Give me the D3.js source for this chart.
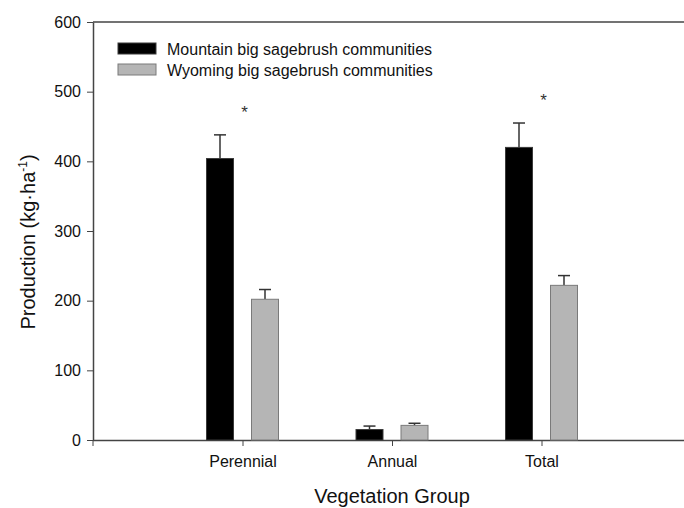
<!DOCTYPE html>
<html>
<head>
<meta charset="utf-8">
<script src="https://cdn.jsdelivr.net/npm/d3@7"></script>
<style>
  body { margin: 0; background: #fff; }
  svg { display: block; font-family: "Liberation Sans", Arial, sans-serif; }
</style>
</head>
<body>
<svg id="chart" width="684" height="508"></svg>
<script>
// data
var groups = ["Perennial", "Annual", "Total"];
var seriesNames = ["Mountain big sagebrush communities", "Wyoming big sagebrush communities"];
var mountain = [404, 15, 420];
var mountainErr = [34, 5, 35];
var wyoming = [202, 21, 222];
var wyomingErr = [14, 3, 14];
var significant = [true, false, true];
var yTicks = [0, 100, 200, 300, 400, 500, 600];

var colors = ["#000000", "#b5b5b5"];
var strokes = ["#3a3a3a", "#7a7a7a"];

var svg = d3.select("#chart");
var plotLeft = 93, plotRight = 691, plotTop = 22, plotBottom = 440;

// groups sit at 1,2,3 on a 0..4 axis
var x = d3.scaleLinear().domain([0, 4]).range([plotLeft, plotRight]);
var y = d3.scaleLinear().domain([0, 600]).range([plotBottom, plotTop]);

var barW = 27, offset = 22.5;

// top frame line
svg.append("line")
    .attr("x1", plotLeft).attr("x2", 684)
    .attr("y1", plotTop).attr("y2", plotTop)
    .attr("stroke", "#444").attr("stroke-width", 1.5);

// y axis
var yAxis = svg.append("g")
    .attr("transform", "translate(" + plotLeft + ",0)")
    .call(d3.axisLeft(y).tickValues(yTicks).tickSize(6).tickSizeOuter(0).tickPadding(6));
yAxis.select(".domain").attr("stroke", "#444").attr("stroke-width", 1.5);
yAxis.selectAll("line").attr("stroke", "#444");
yAxis.selectAll("text").style("font-size", "16px").attr("fill", "#111");

// x axis
var xAxis = svg.append("g")
    .attr("transform", "translate(0," + plotBottom + ")")
    .call(d3.axisBottom(x).tickValues([1, 2, 3]).tickFormat(function(d) { return groups[d - 1]; })
        .tickSize(6).tickSizeOuter(0).tickPadding(10));
xAxis.select(".domain").attr("d", "M" + plotLeft + ",0.5H684").attr("stroke", "#444").attr("stroke-width", 1.5);
xAxis.selectAll("line").attr("stroke", "#444");
xAxis.selectAll("text").style("font-size", "16px").attr("fill", "#111");
// small outer tick at the y axis corner
svg.append("line").attr("x1", plotLeft).attr("x2", plotLeft)
    .attr("y1", plotBottom).attr("y2", plotBottom + 6).attr("stroke", "#444");

var data = [];
groups.forEach(function(g, i) {
    data.push({g: i + 1, s: 0, v: mountain[i], e: mountainErr[i]});
    data.push({g: i + 1, s: 1, v: wyoming[i], e: wyomingErr[i]});
});

var cx = function(d) { return x(d.g) + (d.s === 0 ? -offset : offset); };

// error bars (upper only)
var eb = svg.append("g").selectAll("g").data(data).enter().append("g");
eb.append("line")
    .attr("x1", cx).attr("x2", cx)
    .attr("y1", function(d) { return y(d.v); })
    .attr("y2", function(d) { return y(d.v + d.e); })
    .attr("stroke", "#333").attr("stroke-width", 1.5);
eb.append("line")
    .attr("x1", function(d) { return cx(d) - 6; })
    .attr("x2", function(d) { return cx(d) + 6; })
    .attr("y1", function(d) { return y(d.v + d.e); })
    .attr("y2", function(d) { return y(d.v + d.e); })
    .attr("stroke", "#333").attr("stroke-width", 1.5);

// bars
svg.append("g").selectAll("rect").data(data).enter().append("rect")
    .attr("x", function(d) { return cx(d) - barW / 2; })
    .attr("width", barW)
    .attr("y", function(d) { return y(d.v); })
    .attr("height", function(d) { return y(0) - y(d.v); })
    .attr("fill", function(d) { return colors[d.s]; })
    .attr("stroke", function(d) { return strokes[d.s]; })
    .attr("stroke-width", 1);

// significance asterisks
svg.append("g").selectAll("text")
    .data(groups.map(function(g, i) { return {g: i + 1, top: mountain[i] + mountainErr[i], sig: significant[i]}; })
        .filter(function(d) { return d.sig; }))
    .enter().append("text")
    .attr("x", function(d) { return x(d.g) + 2; })
    .attr("y", function(d) { return y(d.top + 37) + 9; })
    .attr("text-anchor", "middle")
    .style("font-size", "17px")
    .attr("fill", "#333")
    .text("*");

// legend
var legend = svg.append("g").selectAll("g").data(seriesNames).enter().append("g")
    .attr("transform", function(d, i) { return "translate(118," + (43 + i * 21) + ")"; });
legend.append("rect")
    .attr("width", 38).attr("height", 11)
    .attr("fill", function(d, i) { return colors[i]; })
    .attr("stroke", function(d, i) { return strokes[i]; });
legend.append("text")
    .attr("x", 49).attr("y", 12)
    .style("font-size", "16px")
    .attr("fill", "#111")
    .text(function(d) { return d; });

// axis titles
svg.append("text")
    .attr("x", (plotLeft + plotRight) / 2).attr("y", 503)
    .attr("text-anchor", "middle")
    .style("font-size", "20px")
    .attr("fill", "#111")
    .text("Vegetation Group");

var yt = svg.append("text")
    .attr("transform", "translate(35,242) rotate(-90)")
    .attr("text-anchor", "middle")
    .style("font-size", "20px")
    .attr("fill", "#111");
yt.append("tspan").text("Production (kg\u00b7ha");
yt.append("tspan").attr("dy", -8).style("font-size", "12px").text("-1");
yt.append("tspan").attr("dy", 8).text(")");
</script>
</body>
</html>
